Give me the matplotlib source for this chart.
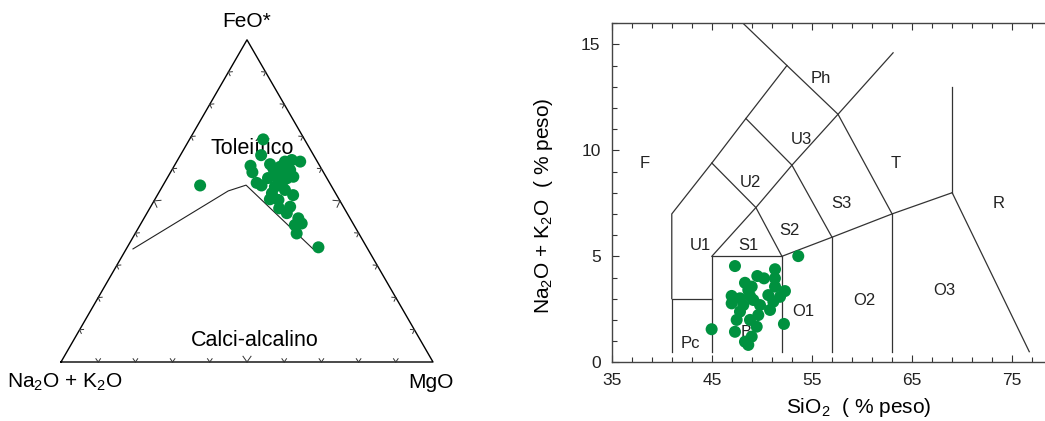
import numpy as np
import matplotlib
matplotlib.use("Agg")
import matplotlib.pyplot as plt

plt.rcParams['font.family'] = ['Liberation Sans', 'DejaVu Sans']
plt.rcParams['mathtext.fontset'] = 'custom'
plt.rcParams['mathtext.rm'] = 'Liberation Sans'

GREEN = '#00913f'

# AFM diagram (percent of FeO*, MgO; Na2O+K2O is the rest)
afm_feo = [69.1, 64.2, 60.9, 58.9, 61.4, 54.8, 55.6, 54.8, 62.2, 62.7, 62.2, 59.6,
           58.6, 57.5, 57.0, 54.9, 54.4, 52.4, 51.8, 50.5, 50.3, 48.2, 47.7, 46.2,
           44.6, 43.0, 42.5, 39.9, 35.6, 60.1, 60.6, 61.7, 57.5, 53.4, 57.1]
afm_mgo = [19.8, 21.7, 20.5, 22.0, 25.5, 10.0, 24.8, 26.5, 29.1, 30.7, 33.2, 31.8,
           30.5, 29.2, 32.2, 31.9, 30.3, 30.5, 36.5, 30.9, 33.3, 37.5, 34.8, 37.6,
           41.5, 43.2, 41.6, 43.4, 51.4, 27.0, 28.6, 30.3, 33.7, 33.5, 27.1]

# Irvine & Baragar boundary line
bound_feo = [35.1, 53.1, 54.9, 35.1]
bound_mgo = [1.8, 18.4, 22.3, 50.2]

# TAS diagram samples
silica = [47.31, 53.63, 51.31, 49.54, 50.21, 51.30, 48.31, 48.98, 51.31, 52.30,
          51.81, 50.64, 46.98, 47.81, 48.81, 46.98, 48.14, 49.81, 50.81, 47.48,
          48.81, 49.48, 47.31, 44.98, 52.20, 48.31, 48.98, 48.64, 47.81, 49.64,
          51.14, 49.14, 48.64]
alkali = [4.54, 5.01, 4.39, 4.07, 3.96, 3.96, 3.75, 3.57, 3.57, 3.36,
          3.09, 3.17, 3.13, 3.02, 3.13, 2.78, 2.70, 2.70, 2.47, 2.00,
          2.00, 1.68, 1.44, 1.56, 1.81, 0.97, 1.21, 0.82, 2.39, 2.23,
          2.86, 2.94, 3.41]

# TAS field boundaries (SiO2, Na2O+K2O)
tas_lines = [
    ([41, 41, 45], [0.5, 3, 3]),
    ([41, 41, 45, 48.4, 52.5], [3, 7, 9.4, 11.5, 14]),
    ([45, 45, 52, 52], [0.5, 5, 5, 0.5]),
    ([57, 57], [0.5, 5.9]),
    ([63, 63], [0.5, 7]),
    ([52, 57, 63, 69], [5, 5.9, 7, 8]),
    ([69, 69], [13, 8]),
    ([69, 76.7], [8, 0.5]),
    ([45, 49.4, 53, 57.6, 63.1], [5, 7.3, 9.3, 11.7, 14.6]),
    ([52, 49.4, 45], [5, 7.3, 9.4]),
    ([57, 53, 48.4], [5.9, 9.3, 11.5]),
    ([63, 57.6, 52.5, 48.1], [7, 11.7, 14, 16]),
]
tas_names = ['F', 'Ph', 'U3', 'T', 'U2', 'S3', 'R', 'S2', 'U1', 'S1', 'O1', 'O2', 'O3', 'B', 'Pc']
tas_name_x = [38.3, 55.9, 53.9, 63.4, 48.9, 57.9, 73.6, 52.8, 43.9, 48.7, 54.1, 60.2, 68.2, 48.4, 42.9]
tas_name_y = [9.4, 13.4, 10.5, 9.4, 8.5, 7.5, 7.5, 6.2, 5.5, 5.5, 2.4, 2.9, 3.4, 1.4, 0.9]


def tern_xy(feo, mgo):
    feo = np.asarray(feo) / 100.0
    mgo = np.asarray(mgo) / 100.0
    return mgo + feo / 2.0, feo * np.sqrt(3) / 2.0


fig = plt.figure(figsize=(10.45, 4.21), dpi=100)

# ---- ternary AFM ----
ax1 = fig.add_axes([0, 0, 450 / 1045, 1])
ax1.set_xlim(-61 / 372, 389 / 372)
ax1.set_ylim(-59 / 372, 362 / 372)
ax1.axis('off')

h = np.sqrt(3) / 2
corners = np.array([[0, 0], [1, 0], [0.5, h], [0, 0]])
ax1.plot(corners[:, 0], corners[:, 1], color='black', lw=1.0, zorder=2)

# chevron ticks every 10 %
centre = np.array([0.5, h / 3])
for a, b in [((0, 0), (1, 0)), ((1, 0), (0.5, h)), ((0.5, h), (0, 0))]:
    a = np.array(a)
    b = np.array(b)
    d = (b - a) / np.linalg.norm(b - a)
    n = np.array([-d[1], d[0]])
    if np.dot(centre - a, n) < 0:
        n = -n
    for k in range(1, 10):
        p = a + (b - a) * k / 10
        s = 7 / 372 if k == 5 else 4 / 372
        for sign in (-1, 1):
            q = p + s * (n * np.cos(np.radians(35)) + sign * d * np.sin(np.radians(35)))
            ax1.plot([p[0], q[0]], [p[1], q[1]], color='#333333', lw=0.7, zorder=2)

bx, by = tern_xy(bound_feo, bound_mgo)
ax1.plot(bx, by, color='#222222', lw=0.8, zorder=2)

ax1.text(0.513, 0.575, 'Toleiítico', fontsize=15.5, ha='center', va='center', zorder=1)
ax1.text(0.5215, 0.0565, 'Calci-alcalino', fontsize=15.5, ha='center', va='center')

px, py = tern_xy(afm_feo, afm_mgo)
ax1.scatter(px, py, s=75, color=GREEN, edgecolors='none', zorder=3)

ax1.text(0.5, 0.914, 'FeO*', fontsize=15, ha='center', va='center')
ax1.text(0.011, -0.054, r'Na$_\mathregular{2}$O + K$_\mathregular{2}$O', fontsize=15,
         ha='center', va='center')
ax1.text(0.995, -0.054, 'MgO', fontsize=15, ha='center', va='center')

# ---- TAS ----
ax2 = fig.add_axes([611.7 / 1045, 58.7 / 421, 433.3 / 1045, 339.6 / 421])
ax2.set_xlim(35, 78.27)
ax2.set_ylim(0, 16.02)
for xs, ys in tas_lines:
    ax2.plot(xs, ys, color='#333333', lw=0.9, zorder=2)
for name, x, y in zip(tas_names, tas_name_x, tas_name_y):
    ax2.text(x, y, name, fontsize=12, ha='center', va='center', color='#222222',
             zorder=2)
ax2.scatter(silica, alkali, s=75, color=GREEN, edgecolors='none', zorder=3)

ax2.spines['right'].set_visible(False)
for sp in ['left', 'bottom', 'top']:
    ax2.spines[sp].set_color('#444444')
    ax2.spines[sp].set_linewidth(1.0)
ax2.set_xticks(np.arange(35, 80, 10))
ax2.set_xticks(np.arange(35, 79, 2), minor=True)
ax2.set_yticks([0, 5, 10, 15])
ax2.set_yticks(np.arange(0, 17, 1), minor=True)
ax2.tick_params(which='both', direction='in', top=True, right=False,
                color='#333333', width=0.8, labelsize=12.5, pad=8,
                labelcolor='#222222')
ax2.tick_params(which='major', length=5)
ax2.tick_params(which='minor', length=3.5)
ax2.set_xlabel(r'SiO$_\mathregular{2}$  ( % peso)', fontsize=15)
ax2.set_ylabel(r'Na$_\mathregular{2}$O + K$_\mathregular{2}$O  ( % peso)', fontsize=15)
ax2.xaxis.set_label_coords(0.571, -0.1)
ax2.yaxis.set_label_coords(-0.131, 0.46)

fig.savefig('out.png', dpi=100)
